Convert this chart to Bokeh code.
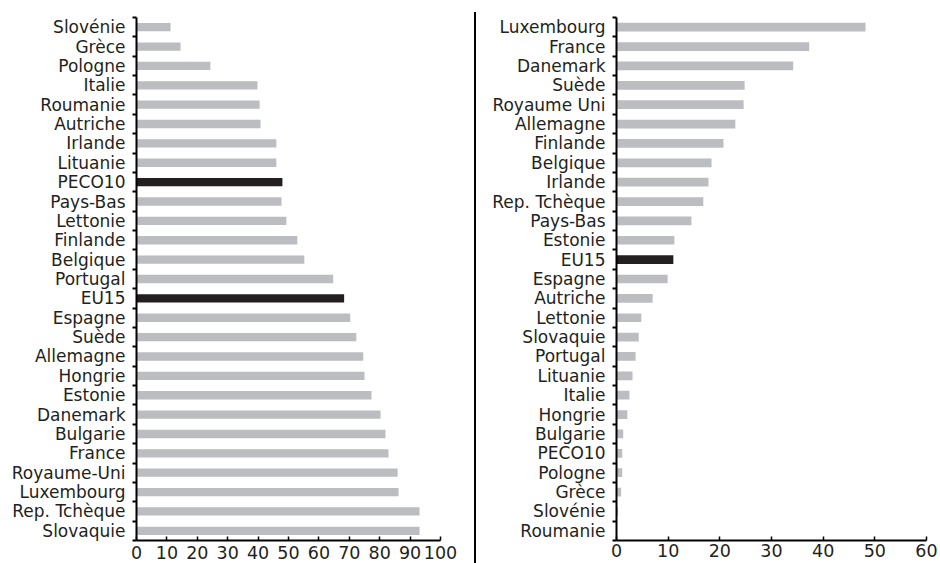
from bokeh.plotting import figure
from bokeh.layouts import row
from bokeh.models import Range1d, FixedTicker, Div, ColumnDataSource
from bokeh.embed import file_html
from bokeh.resources import INLINE

# Left panel (top to bottom)
left_countries = ["Slovénie", "Grèce", "Pologne", "Italie", "Roumanie", "Autriche",
                  "Irlande", "Lituanie", "PECO10", "Pays-Bas", "Lettonie", "Finlande",
                  "Belgique", "Portugal", "EU15", "Espagne", "Suède", "Allemagne",
                  "Hongrie", "Estonie", "Danemark", "Bulgarie", "France", "Royaume-Uni",
                  "Luxembourg", "Rep. Tchèque", "Slovaquie"]
left_values = [11.2, 14.5, 24.3, 39.8, 40.5, 40.8, 46.0, 46.0, 48.0, 47.7, 49.3, 52.9,
               55.2, 64.7, 68.3, 70.3, 72.3, 74.6, 75.0, 77.3, 80.3, 81.9, 82.9, 85.9,
               86.2, 93.1, 93.1]
left_highlight = ["EU15", "PECO10"]
left_ticks = [0, 10, 20, 30, 40, 50, 60, 70, 80, 90, 100]

# Right panel (top to bottom)
right_countries = ["Luxembourg", "France", "Danemark", "Suède", "Royaume Uni", "Allemagne",
                   "Finlande", "Belgique", "Irlande", "Rep. Tchèque", "Pays-Bas", "Estonie",
                   "EU15", "Espagne", "Autriche", "Lettonie", "Slovaquie", "Portugal",
                   "Lituanie", "Italie", "Hongrie", "Bulgarie", "PECO10", "Pologne",
                   "Grèce", "Slovénie", "Roumanie"]
right_values = [48.2, 37.3, 34.2, 24.8, 24.6, 23.0, 20.7, 18.4, 17.8, 16.8, 14.5, 11.2,
                11.0, 9.9, 7.0, 4.8, 4.3, 3.7, 3.1, 2.5, 2.1, 1.3, 1.1, 1.1, 0.9, 0.3, 0.0]
right_highlight = ["EU15"]
right_ticks = [0, 10, 20, 30, 40, 50, 60]

GRAY = "#bcbdc1"
DARK = "#231f20"
FONT = "DejaVu Sans"


def make_panel(countries, values, highlight, xmax, xticks, width, height,
               bl, br, bt, bb, bar_h, xstandoff):
    n = len(countries)
    ys = [n - i - 0.5 for i in range(n)]
    colors = [DARK if c in highlight else GRAY for c in countries]
    src = ColumnDataSource(dict(y=ys, v=values, c=colors))
    p = figure(width=width, height=height, output_backend="svg", toolbar_location=None,
               x_range=Range1d(0, xmax), y_range=Range1d(0, n),
               min_border_left=bl, min_border_right=br, min_border_top=bt,
               min_border_bottom=bb)
    p.hbar(y="y", right="v", left=0, height=bar_h, fill_color="c", line_color=None,
           source=src)
    p.outline_line_color = None
    p.grid.visible = False
    p.background_fill_color = "white"
    p.border_fill_color = "white"

    ya = p.yaxis[0]
    ya.ticker = FixedTicker(ticks=ys, minor_ticks=list(range(0, n + 1)))
    ya.major_label_overrides = {y: c for y, c in zip(ys, countries)}
    ya.major_tick_out = 0
    ya.major_tick_in = 0
    ya.minor_tick_out = 4
    ya.minor_tick_in = 0
    ya.minor_tick_line_width = 2
    ya.minor_tick_line_color = "black"
    ya.axis_line_width = 2
    ya.axis_line_color = "black"
    ya.major_label_standoff = 7
    ya.major_label_text_font = FONT
    ya.major_label_text_font_size = "17px"
    ya.major_label_text_color = DARK

    xa = p.xaxis[0]
    xa.ticker = FixedTicker(ticks=xticks, minor_ticks=[])
    xa.major_tick_in = 4
    xa.major_tick_out = 0
    xa.major_tick_line_width = 1.5
    xa.major_tick_line_color = "black"
    xa.axis_line_width = 2
    xa.axis_line_color = "black"
    xa.major_label_standoff = xstandoff
    xa.major_label_text_font = FONT
    xa.major_label_text_font_size = "17.5px"
    xa.major_label_text_color = DARK
    return p


H = 563
p1 = make_panel(left_countries, left_values, left_highlight, 100, left_ticks,
                474, H, 136, 34, 15, 23, 0.43, 5)
sep = Div(text="", width=2, height=551, margin=(12, 0, 0, 0),
          styles={"background-color": "black"})
p2 = make_panel(right_countries, right_values, right_highlight, 60, right_ticks,
                462, H, 140, 12, 17, 20, 0.45, 3)

layout = row(p1, sep, p2)
open("out.html", "w").write(file_html(layout, INLINE))
